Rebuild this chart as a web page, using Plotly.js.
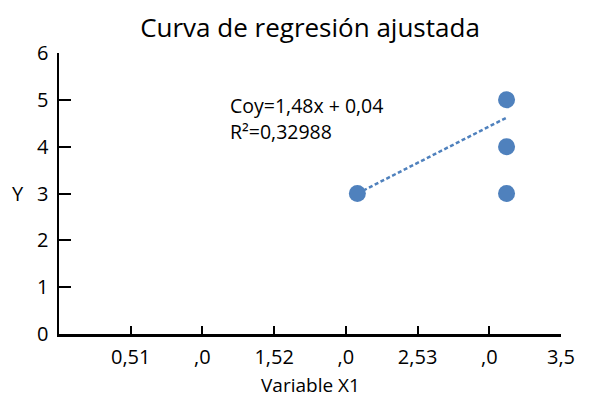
<!DOCTYPE html>
<html>
<head>
<meta charset="utf-8">
<script src="https://cdn.plot.ly/plotly-3.0.1.min.js"></script>
<style>html,body{margin:0;padding:0;background:#fff;}#chart{width:597px;height:398px;}</style>
</head>
<body>
<div id="chart"></div>
<script>
// Data
const pointsX = [2, 3, 3, 3];
const pointsY = [3, 5, 4, 3];
const trendX = [2, 3];
const trendY = [3.0, 4.62];
const yTickVals = [0, 1, 2, 3, 4, 5, 6];
const xTickVals = [0.5, 1, 1.5, 2, 2.5, 3, 3.5];
const xTickText = ['0,51', ',0', '1,52', ',0', '2,53', ',0', '3,5'];
const titleText = 'Curva de regresión ajustada';
const xTitle = 'Variable X1';
const yTitle = 'Y';
const eqText = 'Coy=1,48x + 0,04';
const r2Text = 'R²=0,32988';

const FONT = 'Open Sans, sans-serif';
const BLUE = '#4f81bd';

const traces = [
  {
    x: trendX, y: trendY, xaxis: 'x', yaxis: 'y',
    mode: 'lines', type: 'scatter', hoverinfo: 'skip',
    line: {color: BLUE, width: 2.5, dash: '4px,2.5px'}
  },
  {
    x: pointsX, y: pointsY, xaxis: 'x', yaxis: 'y',
    mode: 'markers', type: 'scatter',
    marker: {color: BLUE, size: 17}
  },
  {
    x: [xTickVals[0], xTickVals[xTickVals.length - 1]], y: [null, null],
    xaxis: 'x2', yaxis: 'y', mode: 'markers', type: 'scatter',
    marker: {opacity: 0}, hoverinfo: 'skip'
  }
];

const layout = {
  width: 597, height: 398,
  margin: {l: 59, r: 36, t: 53, b: 64, pad: 0},
  paper_bgcolor: '#fff', plot_bgcolor: '#fff',
  showlegend: false,
  font: {family: FONT, color: '#000', size: 19},
  title: {
    text: titleText, font: {family: FONT, size: 26, color: '#000'},
    x: 0.5, xref: 'paper', y: 1 - 28 / 398, yref: 'container', yanchor: 'middle'
  },
  xaxis: {
    range: [0, 3.365], visible: false, domain: [0, 1], anchor: 'y',
    fixedrange: true
  },
  xaxis2: {
    overlaying: 'x', anchor: 'y', side: 'bottom',
    range: [0, 3.5], tickmode: 'array', tickvals: xTickVals, ticktext: xTickText,
    ticks: 'inside', ticklen: 8, tickwidth: 2, tickcolor: '#000',
    showline: true, linewidth: 2.5, linecolor: '#000',
    showgrid: false, zeroline: false, ticklabelstandoff: 3,
    tickfont: {family: FONT, size: 20, color: '#000'}
  },
  yaxis: {
    range: [0, 6], tickmode: 'array', tickvals: yTickVals,
    ticks: 'inside', ticklen: 12, tickwidth: 2, tickcolor: '#000',
    showline: true, linewidth: 2.5, linecolor: '#000',
    showgrid: false, zeroline: false,
    tickfont: {family: FONT, size: 20, color: '#000'}, ticklabelstandoff: 4
  },
  annotations: [
    {text: xTitle, xref: 'paper', yref: 'paper', x: 0.5, y: (334 - 385) / 281, xanchor: 'center', yanchor: 'middle',
     showarrow: false, font: {family: FONT, size: 19, color: '#000'}},
    {text: yTitle, xref: 'paper', yref: 'y', x: -41.5 / 502, y: 3, xanchor: 'center', yanchor: 'middle',
     showarrow: false, font: {family: FONT, size: 20, color: '#000'}},
    {text: eqText, xref: 'paper', yref: 'paper', x: 169 / 502, y: (334 - 106) / 281, xanchor: 'left', yanchor: 'middle',
     showarrow: false, font: {family: FONT, size: 19.5, color: '#000'}},
    {text: r2Text, xref: 'paper', yref: 'paper', x: 169 / 502, y: (334 - 131) / 281, xanchor: 'left', yanchor: 'middle',
     showarrow: false, font: {family: FONT, size: 19.5, color: '#000'}}
  ]
};

Plotly.newPlot('chart', traces, layout, {displayModeBar: false, staticPlot: true});
</script>
</body>
</html>
